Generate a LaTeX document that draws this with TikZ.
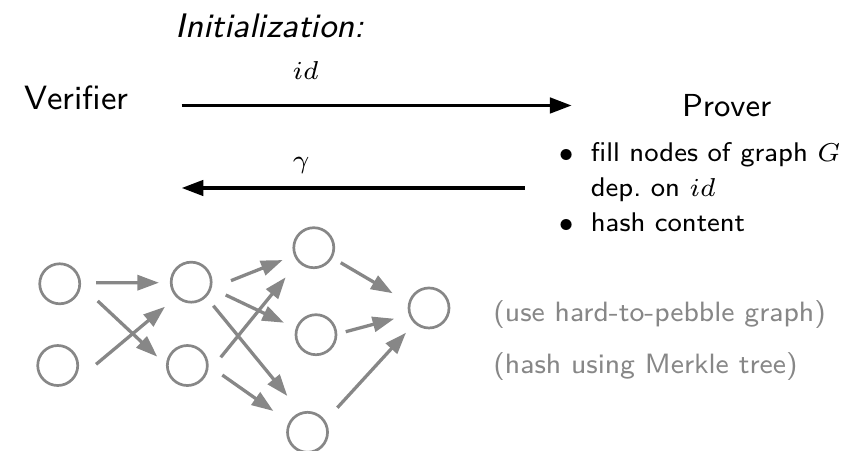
\documentclass[tikz,border=0pt]{standalone}
\usepackage{amsmath}
\usetikzlibrary{arrows.meta}
\definecolor{graphgray}{gray}{0.53}
\tikzset{
  msgarrow/.style={-{Triangle[length=2.06mm, width=1.46mm]}, line width=0.92pt},
  gedge/.style={-{Triangle[length=2.06mm, width=1.43mm]}, line width=0.89pt, draw=graphgray},
  gnode/.style={draw=graphgray, circle, line width=0.73pt, minimum size=0.38cm, inner sep=0pt},
  party/.style={anchor=base, font=\sffamily\fontsize{9.1}{11}\selectfont},
  gnote/.style={anchor=base west, inner sep=0pt, text=graphgray, font=\sffamily\fontsize{7.55}{9}\selectfont}
}

\begin{document}
\begin{tikzpicture}[x=0.6333cm, y=0.6333cm,
    every node/.style={font=\sffamily\fontsize{7.3}{9.46}\selectfont}]
  \useasboundingbox (0,0) rectangle (12.975,-6.765);

  % header and the two parties
  \node[anchor=base, font=\sffamily\itshape\fontsize{9.2}{11}\selectfont] (init) at (4.05,-0.563) {Initialization:};
  \node[party] (verifier) at (1.15,-1.64) {Verifier};
  \node[party, font=\sffamily\fontsize{8.6}{10.3}\selectfont] (prover) at (10.9,-1.75) {Prover};
  % base of a multi-line node = baseline of its last line
  \node[anchor=base west, align=left, inner sep=0pt] (todo) at (8.37,-3.4755)
    {$\bullet$\hspace{0.63em}fill nodes of graph $G$\\
     \hphantom{$\bullet$\hspace{0.63em}}dep.\ on $id$\\
     $\bullet$\hspace{0.63em}hash content};

  % messages
  \coordinate (idtail) at (2.725,-1.5825);
  \coordinate (idhead) at (8.575,-1.5825);
  \coordinate (gtail) at (7.875,-2.82);
  \coordinate (ghead) at (2.725,-2.82);
  \draw[msgarrow] (idtail) -- node[pos=0.318, above=0.116cm] (idlabel) {$id$} (idhead);
  \draw[msgarrow] (gtail) -- node[pos=0.652, above] (glabel) {$\gamma$} (ghead);

  % the graph
  \node[gnode] (in1) at (0.896,-4.257) {};
  \node[gnode] (in2) at (0.866,-5.483) {};
  \node[gnode] (h1) at (2.868,-4.233) {};
  \node[gnode] (h2) at (2.81,-5.483) {};
  \node[gnode] (p1) at (4.707,-3.716) {};
  \node[gnode] (p2) at (4.74,-5.021) {};
  \node[gnode] (p3) at (4.613,-6.485) {};
  \node[gnode] (root) at (6.435,-4.62) {};

  \draw[gedge] ([shift={(0.545,0.017)}]in1.center) -- ([shift={(-0.483,-0.008)}]h1.center);
  \draw[gedge] ([shift={(0.57,-0.258)}]in1.center) -- ([shift={(-0.45,0.132)}]h2.center);
  \draw[gedge] ([shift={(0.575,0.018)}]in2.center) -- ([shift={(-0.393,-0.368)}]h1.center);
  \draw[gedge] ([shift={(0.597,0.023)}]h1.center) -- ([shift={(-0.467,-0.185)}]p1.center);
  \draw[gedge] ([shift={(0.518,-0.192)}]h1.center) -- ([shift={(-0.48,0.18)}]p2.center);
  \draw[gedge] ([shift={(0.332,-0.353)}]h1.center) -- ([shift={(-0.303,0.545)}]p3.center);
  \draw[gedge] ([shift={(0.501,0.123)}]h2.center) -- ([shift={(-0.422,-0.444)}]p1.center);
  \draw[gedge] ([shift={(0.525,-0.143)}]h2.center) -- ([shift={(-0.513,0.32)}]p3.center);
  \draw[gedge] ([shift={(0.404,-0.225)}]p1.center) -- ([shift={(-0.545,0.221)}]root.center);
  \draw[gedge] ([shift={(0.446,0.045)}]p2.center) -- ([shift={(-0.521,-0.161)}]root.center);
  \draw[gedge] ([shift={(0.447,0.369)}]p3.center) -- ([shift={(-0.345,-0.371)}]root.center);

  % side notes
  \node[gnote] (pebble) at (7.39,-4.825) {(use hard-to-pebble graph)};
  \node[gnote] (merkle) at (7.39,-5.6) {(hash using Merkle tree)};
\end{tikzpicture}
\end{document}
